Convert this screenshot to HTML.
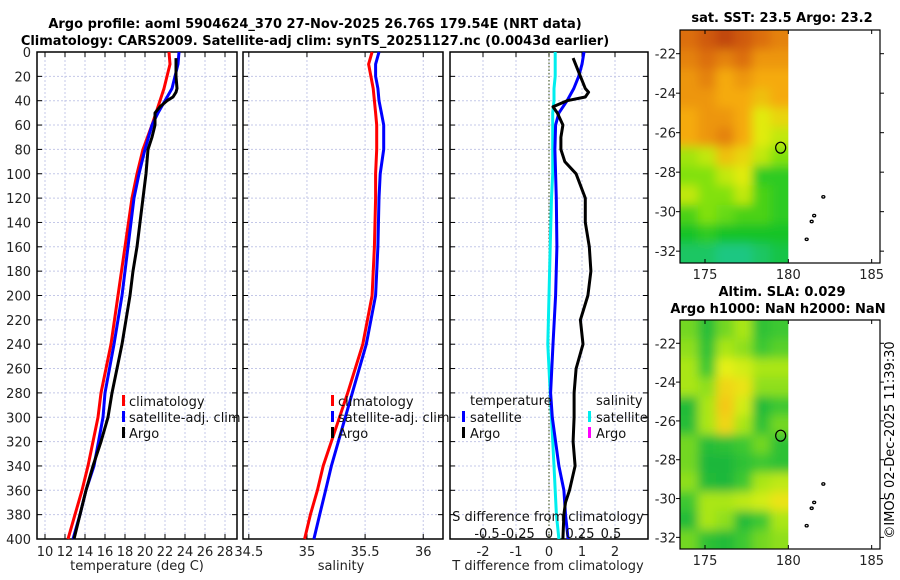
<!DOCTYPE html>
<html><head><meta charset="utf-8"><style>
html,body{margin:0;padding:0;background:#fff;}
svg{display:block;font-family:"DejaVu Sans","Liberation Sans",sans-serif;}
</style></head><body>
<svg id="fig" width="900" height="580" viewBox="0 0 900 580" xmlns="http://www.w3.org/2000/svg">
<text x="315" y="28" font-size="13" font-weight="bold" text-anchor="middle">Argo profile: aoml 5904624_370 27-Nov-2025 26.76S 179.54E (NRT data)</text>
<text x="315" y="45" font-size="13" font-weight="bold" text-anchor="middle">Climatology: CARS2009. Satellite-adj clim: synTS_20251127.nc (0.0043d earlier)</text>
<g id="g1"></g>
<g id="g2"></g>
<g id="g3"></g>
<g id="m1"></g>
<g id="m2"></g>
<text x="782" y="22" font-size="13" font-weight="bold" text-anchor="middle">sat. SST: 23.5 Argo: 23.2</text>
<text x="782" y="296" font-size="13" font-weight="bold" text-anchor="middle">Altim. SLA: 0.029</text>
<text x="778" y="313" font-size="13" font-weight="bold" text-anchor="middle">Argo h1000: NaN h2000: NaN</text>
<text transform="translate(894,440) rotate(-90)" font-size="13" text-anchor="middle">©IMOS 02-Dec-2025 11:39:30</text>
</svg>
<script>
// ---- data ----
const depthGrid = [0,10,20,30,40,50,60,80,100,120,160,200,240,280,300,340,360,380,400];
const tempClim  = [22.4,22.5,22.2,21.9,21.5,21.1,20.7,19.8,19.2,18.7,18.0,17.3,16.6,15.6,15.3,14.3,13.7,13.0,12.3];
const tempSat   = [23.4,23.3,23.0,22.7,22.0,21.3,20.7,20.0,19.4,18.9,18.3,17.7,16.9,16.0,15.8,14.9,14.1,13.5,12.8];
const salClim   = [35.56,35.53,35.55,35.57,35.58,35.59,35.60,35.60,35.59,35.59,35.58,35.56,35.48,35.35,35.28,35.14,35.09,35.03,34.98];
const salSat    = [35.62,35.59,35.59,35.61,35.62,35.64,35.66,35.66,35.63,35.62,35.61,35.59,35.51,35.39,35.33,35.21,35.16,35.11,35.06];
const tDiffSat  = [1.06,1.0,0.9,0.75,0.55,0.3,0.2,0.18,0.2,0.22,0.24,0.2,0.12,0.05,0.1,0.3,0.45,0.5,0.58];
const sDiffSat  = [0.05,0.05,0.05,0.04,0.04,0.03,0.03,0.03,0.03,0.02,0.01,0.0,-0.01,0.01,0.02,0.04,0.05,0.06,0.08];
const argoDepth = [5,20,30,33,37,40,45,50,60,70,80,90,100,120,140,160,180,200,220,240,260,280,300,320,340,360,370,380,400];
const argoTemp  = [23.1,23.1,23.2,23.1,22.8,22.2,21.5,21.0,21.0,20.7,20.3,20.2,20.1,19.8,19.5,19.2,18.8,18.5,18.1,17.7,17.2,16.7,16.3,15.6,14.8,14.1,13.8,13.5,12.9];
const argoTDiff = [0.73,0.95,1.1,1.2,1.1,0.55,0.12,0.25,0.42,0.36,0.36,0.48,0.82,1.1,1.1,1.22,1.27,1.18,0.95,1.03,0.82,0.76,0.76,0.73,0.79,0.62,0.5,0.45,0.42];
const tempTicks = [10,12,14,16,18,20,22,24,26,28];
const salTicks  = [34.5,35,35.5,36];
const tdTicks   = [-2,-1,0,1,2];
const sdTicks   = [-0.5,-0.25,0,0.25,0.5];
const sdTickLabels = ["-0.5","-0.25","0","0.25","0.5"];
const depthTicks = [0,20,40,60,80,100,120,140,160,180,200,220,240,260,280,300,320,340,360,380,400];
const lonTicks = [175,180,185];
const latTicks = [-22,-24,-26,-28,-30,-32];
const sstGrid = [
 [0.85,0.9,0.95,0.9,0.85,0.8],
 [0.8,0.85,0.8,0.85,0.75,0.75],
 [0.75,0.8,0.7,0.75,0.7,0.7],
 [0.75,0.75,0.7,0.7,0.65,0.7],
 [0.7,0.75,0.75,0.7,0.55,0.6],
 [0.7,0.75,0.8,0.7,0.55,0.5],
 [0.45,0.5,0.65,0.6,0.5,0.4],
 [0.4,0.4,0.5,0.55,0.25,0.25],
 [0.5,0.4,0.4,0.5,0.3,0.25],
 [0.3,0.4,0.35,0.3,0.3,0.25],
 [0.2,0.25,0.2,0.2,0.2,0.2],
 [0.1,0.1,0.05,0.05,0.1,0.15]];
const slaGrid = [
 [0.4,0.15,0.4,0.5,0.2,0.3],
 [0.45,0.2,0.5,0.45,0.3,0.35],
 [0.5,0.3,0.65,0.6,0.5,0.5],
 [0.5,0.45,0.75,0.7,0.45,0.45],
 [0.1,0.5,0.8,0.6,0.1,0.3],
 [0.15,0.5,0.75,0.5,0.2,0.4],
 [0.4,0.15,0.2,0.3,0.4,0.2],
 [0.4,0.05,0.05,0.2,0.3,0.2],
 [0.45,0.1,0.05,0.3,0.5,0.55],
 [0.3,0.5,0.5,0.55,0.6,0.7],
 [0.1,0.5,0.45,0.1,0.3,0.5],
 [0.4,0.2,0.1,0.3,0.4,0.45]];
const islands = [[182.1,-29.25],[181.55,-30.2],[181.4,-30.5],[181.1,-31.4]];
const argoPos = [179.54,-26.76];

const NS="http://www.w3.org/2000/svg";
function mk(parent,tag,attrs){const e=document.createElementNS(NS,tag);for(const k in attrs)e.setAttribute(k,attrs[k]);parent.appendChild(e);return e;}
const PT=52, PB=539;
const yD = d => PT + (PB-PT)*d/400;

function panel(g, x0, x1, xmin, xmax, ticks, labels, showY){
  const xs = v => x0 + (x1-x0)*(v-xmin)/(xmax-xmin);
  for(const t of ticks){
    const l=mk(g,'line',{x1:xs(t),x2:xs(t),y1:PT,y2:PB,stroke:'#c4c8e8','stroke-width':1,'stroke-dasharray':'2,2'});
    
    
  }
  for(const d of depthTicks){
    const l=mk(g,'line',{x1:x0,x2:x1,y1:yD(d),y2:yD(d),stroke:'#c4c8e8','stroke-width':1,'stroke-dasharray':'2,2'});
    
    
    mk(g,'line',{x1:x0,x2:x0+5,y1:yD(d),y2:yD(d),stroke:'#000'});
    mk(g,'line',{x1:x1-5,x2:x1,y1:yD(d),y2:yD(d),stroke:'#000'});
    if(showY){
      const t=mk(g,'text',{x:x0-6,y:yD(d)+5,'font-size':13,'text-anchor':'end',fill:'#222'});
      t.textContent=d;
      
      
    }
  }
  ticks.forEach((t,i)=>{
    mk(g,'line',{x1:xs(t),x2:xs(t),y1:PB,y2:PB-5,stroke:'#000'});
    mk(g,'line',{x1:xs(t),x2:xs(t),y1:PT,y2:PT+5,stroke:'#000'});
    if(labels){
      const tx=mk(g,'text',{x:xs(t),y:PB+17,'font-size':13,'text-anchor':'middle',fill:'#222'});
      tx.textContent=labels[i];
      
      
    }
  });
  const b=mk(g,'rect',{x:x0,y:PT,width:x1-x0,height:PB-PT,fill:'none',stroke:'#000','stroke-width':1.5});
  
  
  return xs;
}
function line(g, xs, vals, deps, color, w, name){
  const pts = vals.map((v,i)=>xs(v).toFixed(1)+','+yD(deps[i]).toFixed(1)).join(' ');
  const p=mk(g,'polyline',{points:pts,fill:'none',stroke:color,'stroke-width':w,'stroke-linejoin':'round'});
  
  
}
function txt(g,x,y,s,name,opts){
  const t=mk(g,'text',Object.assign({x:x,y:y,'font-size':13,fill:'#111'},opts||{}));
  t.textContent=s;
  
  
  return t;
}
function legendBar(g,x,y,color,name){
  const r=mk(g,'rect',{x:x,y:y-6,width:3,height:11,fill:color});
  
  
}

// panel 1
const g1=document.getElementById('g1');
const xT=panel(g1,37,237,9.2,29.2,tempTicks,tempTicks.map(String),true);
line(g1,xT,tempClim,depthGrid,'#ff0000',3,'climatology-temp-line');
line(g1,xT,tempSat,depthGrid,'#0000ff',3,'satellite-temp-line');
line(g1,xT,argoTemp,argoDepth,'#000',3,'argo-temp-line');
legendBar(g1,122,401,'#ff0000','legend-climatology-marker');
legendBar(g1,122,417,'#0000ff','legend-satellite-marker');
legendBar(g1,122,433,'#000','legend-argo-marker');
txt(g1,129,406,'climatology','legend-climatology');
txt(g1,129,422,'satellite-adj. clim','legend-satellite');
txt(g1,129,438,'Argo','legend-argo');
txt(g1,137,570,'temperature (deg C)','x-axis-title-temperature',{'text-anchor':'middle',fill:'#222'});

// panel 2
const g2=document.getElementById('g2');
const xS=panel(g2,243,443,34.45,36.17,salTicks,salTicks.map(String),false);
line(g2,xS,salClim,depthGrid,'#ff0000',3,'climatology-salinity-line');
line(g2,xS,salSat,depthGrid,'#0000ff',3,'satellite-salinity-line');
legendBar(g2,331,401,'#ff0000','legend-climatology-marker');
legendBar(g2,331,417,'#0000ff','legend-satellite-marker');
legendBar(g2,331,433,'#000','legend-argo-marker');
txt(g2,338,406,'climatology','legend-climatology');
txt(g2,338,422,'satellite-adj. clim','legend-satellite');
txt(g2,338,438,'Argo','legend-argo');
txt(g2,341,570,'salinity','x-axis-title-salinity',{'text-anchor':'middle',fill:'#222'});

// panel 3
const g3=document.getElementById('g3');
const xTD=panel(g3,450,648,-3,3,tdTicks,tdTicks.map(String),false);
const xSD = v => xTD(0) + v*124;
mk(g3,'line',{x1:xTD(0),x2:xTD(0),y1:PT,y2:PB,stroke:'#556633','stroke-width':1.2,'stroke-dasharray':'1.5,2'});
line(g3,xSD,sDiffSat,depthGrid,'#00eeee',3,'satellite-salinity-diff-line');
const tDiffFromArrays = tempSat.map((v,i)=>v-tempClim[i]);
line(g3,xTD,tDiffSat,depthGrid,'#0000ff',3,'satellite-temp-diff-line');
line(g3,xTD,argoTDiff,argoDepth,'#000',3,'argo-temp-diff-line');
txt(g3,470,405,'temperature','legend-temperature-header');
legendBar(g3,462,417,'#0000ff','legend-t-satellite-marker');
legendBar(g3,462,433,'#000','legend-t-argo-marker');
txt(g3,470,422,'satellite','legend-t-satellite');
txt(g3,470,438,'Argo','legend-t-argo');
txt(g3,596,405,'salinity','legend-salinity-header');
legendBar(g3,588,417,'#00eeee','legend-s-satellite-marker');
legendBar(g3,588,433,'#ff00ff','legend-s-argo-marker');
txt(g3,596,422,'satellite','legend-s-satellite');
txt(g3,596,438,'Argo','legend-s-argo');
txt(g3,548,521,'S difference from climatology','s-axis-title',{'text-anchor':'middle'});
sdTicks.forEach((t,i)=>txt(g3,xSD(t),538,sdTickLabels[i],'s-tick-label',{'text-anchor':'middle'}));
txt(g3,548,570,'T difference from climatology','x-axis-title-tdiff',{'text-anchor':'middle',fill:'#222'});

// maps
function sstColor(v){
  const stops=[[0,[32,200,160]],[0.2,[20,195,40]],[0.4,[130,225,10]],[0.55,[225,235,10]],[0.7,[245,170,10]],[0.85,[220,110,10]],[1,[180,50,10]]];
  return interp(stops,v);
}
function slaColor(v){
  const stops=[[0,[20,180,60]],[0.3,[60,200,50]],[0.5,[170,230,20]],[0.65,[230,240,20]],[0.8,[245,200,20]],[1,[240,150,20]]];
  return interp(stops,v);
}
function interp(stops,v){
  for(let i=1;i<stops.length;i++){
    if(v<=stops[i][0]){
      const [a,ca]=stops[i-1],[b,cb]=stops[i];const f=(v-a)/(b-a);
      return 'rgb('+ca.map((c,k)=>Math.round(c+(cb[k]-c)*f)).join(',')+')';
    }
  }
  const c=stops[stops.length-1][1];return 'rgb('+c.join(',')+')';
}
function drawMap(g, top, bottom, grid, cfun, id){
  const L=680,R=880, lonMin=173.5, lonMax=185.5, latTop=-20.8, latBot=-32.6;
  const xs = lon => L + (R-L)*(lon-lonMin)/(lonMax-lonMin);
  const ys = lat => top + (bottom-top)*(latTop-lat)/(latTop-latBot);
  const defs=mk(g,'defs',{});
  const f=mk(defs,'filter',{id:'bl'+id,x:'-5%',y:'-5%',width:'110%',height:'110%'});
  mk(f,'feGaussianBlur',{stdDeviation:5});
  const cp=mk(defs,'clipPath',{id:'cp'+id});
  mk(cp,'rect',{x:L,y:top,width:xs(180)-L,height:bottom-top});
  const cg=mk(g,'g',{'clip-path':'url(#cp'+id+')'});
  const inner=mk(cg,'g',{filter:'url(#bl'+id+')'});
  const nr=grid.length, nc=grid[0].length;
  const cw=(xs(180)-L)/nc, ch=(bottom-top)/nr;
  for(let r=0;r<nr;r++)for(let c=0;c<nc;c++){
    const rc=mk(inner,'rect',{x:L+c*cw-(c==0?12:0),y:top+r*ch-(r==0?12:0),width:cw+(c==0?12:0)+(c==nc-1?12:0)+0.5,height:ch+(r==0?12:0)+(r==nr-1?12:0)+0.5,fill:cfun(grid[r][c])});
    
    
  }
  for(const t of lonTicks){
    mk(g,'line',{x1:xs(t),x2:xs(t),y1:bottom,y2:bottom-4,stroke:'#000'});
    mk(g,'line',{x1:xs(t),x2:xs(t),y1:top,y2:top+4,stroke:'#000'});
    txt(g,xs(t),bottom+16,String(t),'lon-tick-label',{'text-anchor':'middle',fill:'#222'});
  }
  for(const t of latTicks){
    mk(g,'line',{x1:L,x2:L-4,y1:ys(t),y2:ys(t),stroke:'#000'});
    mk(g,'line',{x1:R,x2:R+4,y1:ys(t),y2:ys(t),stroke:'#000'});
    txt(g,676,ys(t)+5,String(t),'lat-tick-label',{'text-anchor':'end',fill:'#222'});
  }
  for(const p of islands){
    const e=mk(g,'ellipse',{cx:xs(p[0]),cy:ys(p[1]),rx:1.5,ry:1.2,fill:'none',stroke:'#000','stroke-width':1.3});
    
    
  }
  const c=mk(g,'ellipse',{cx:xs(argoPos[0]),cy:ys(argoPos[1]),rx:5,ry:5.5,fill:'none',stroke:'#000','stroke-width':1.2});
  
  
  const b=mk(g,'rect',{x:L,y:top,width:R-L,height:bottom-top,fill:'none',stroke:'#000','stroke-width':1.2});
  
  
}
drawMap(document.getElementById('m1'),30,263,sstGrid,sstColor,1);
drawMap(document.getElementById('m2'),320,549,slaGrid,slaColor,2);
</script>
</body></html>
